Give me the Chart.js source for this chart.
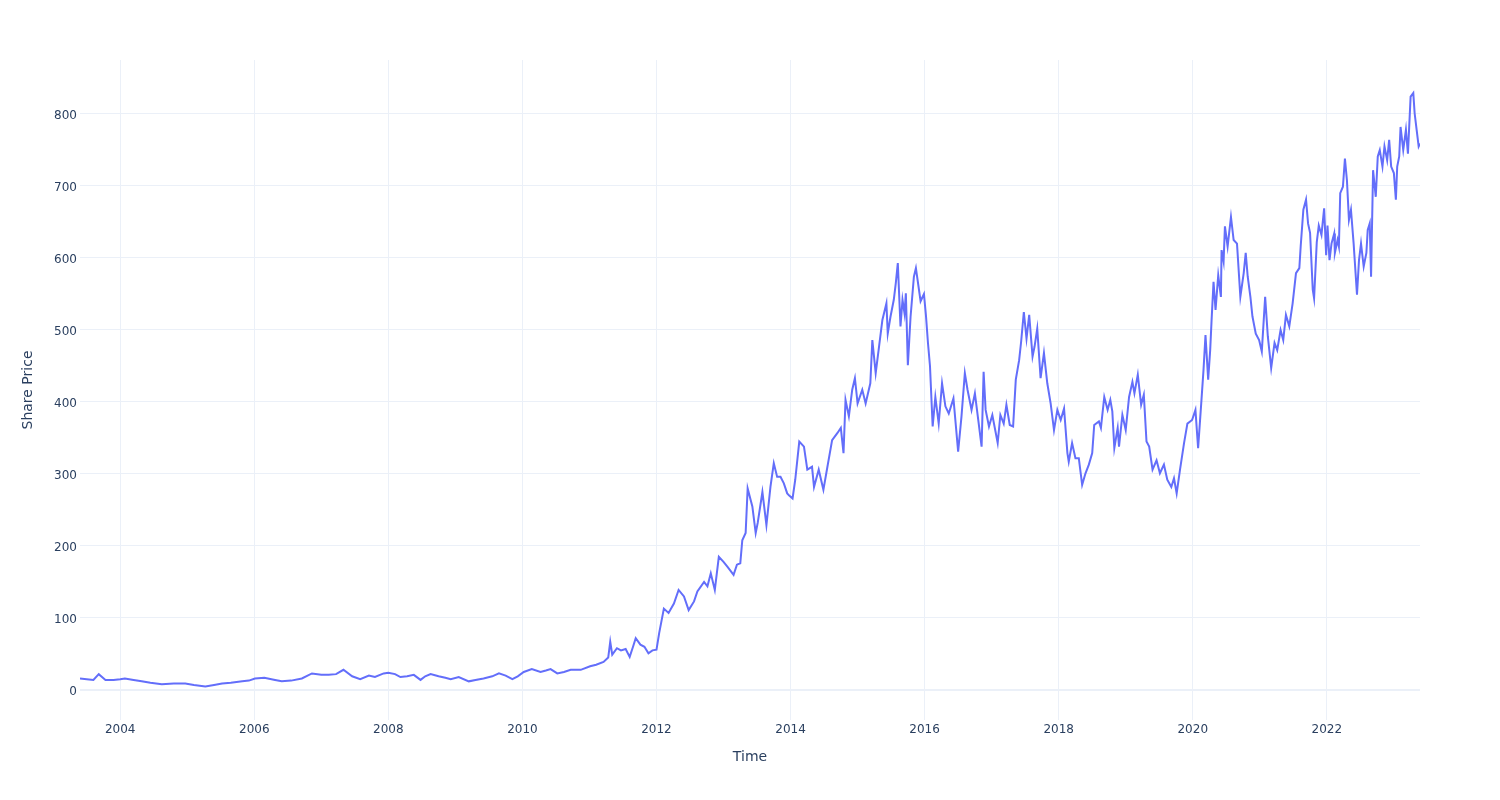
<!DOCTYPE html>
<html>
<head>
<meta charset="utf-8">
<title>Share Price</title>
<script src="https://cdn.jsdelivr.net/npm/chart.js@4"></script>
<style>
  body { margin: 0; background: #fff; }
  canvas { display: block; }
</style>
</head>
<body>
<canvas id="priceChart" width="1500" height="800"></canvas>
<script>
// decimal years, with the share price at each one
const years = [
  2003.40, 2003.50, 2003.60, 2003.68, 2003.78, 2003.90, 2004.00, 2004.07, 2004.20, 2004.32,
  2004.45, 2004.62, 2004.80, 2004.97, 2005.10, 2005.27, 2005.40, 2005.52, 2005.65, 2005.82,
  2005.92, 2006.01, 2006.15, 2006.31, 2006.41, 2006.55, 2006.71, 2006.86, 2007.00, 2007.11,
  2007.22, 2007.33, 2007.46, 2007.58, 2007.71, 2007.80, 2007.93, 2008.00, 2008.10, 2008.18,
  2008.28, 2008.38, 2008.48, 2008.55, 2008.63, 2008.75, 2008.85, 2008.93, 2009.05, 2009.20,
  2009.30, 2009.42, 2009.55, 2009.65, 2009.75, 2009.85, 2009.93, 2010.02, 2010.14, 2010.27,
  2010.35, 2010.42, 2010.52, 2010.62, 2010.72, 2010.87, 2011.01, 2011.10, 2011.21, 2011.28,
  2011.31, 2011.34, 2011.41, 2011.47, 2011.54, 2011.60, 2011.65, 2011.69, 2011.76, 2011.82,
  2011.88, 2011.94, 2012.00, 2012.04, 2012.11, 2012.18, 2012.26, 2012.33, 2012.41, 2012.48,
  2012.56, 2012.61, 2012.71, 2012.76, 2012.81, 2012.87, 2012.93, 2013.00, 2013.06, 2013.15,
  2013.20, 2013.25, 2013.28, 2013.33, 2013.36, 2013.43, 2013.48, 2013.51, 2013.58, 2013.64,
  2013.70, 2013.75, 2013.80, 2013.85, 2013.90, 2013.95, 2013.98, 2014.03, 2014.07, 2014.13,
  2014.20, 2014.25, 2014.32, 2014.35, 2014.42, 2014.49, 2014.55, 2014.62, 2014.70, 2014.75,
  2014.79, 2014.82, 2014.87, 2014.92, 2014.96, 2015.00, 2015.07, 2015.12, 2015.19, 2015.22,
  2015.27, 2015.32, 2015.37, 2015.43, 2015.45, 2015.49, 2015.54, 2015.57, 2015.60, 2015.64,
  2015.67, 2015.70, 2015.72, 2015.75, 2015.79, 2015.84, 2015.87, 2015.94, 2015.99, 2016.02,
  2016.05, 2016.08, 2016.12, 2016.16, 2016.21, 2016.26, 2016.31, 2016.36, 2016.43, 2016.50,
  2016.55, 2016.60, 2016.64, 2016.70, 2016.75, 2016.80, 2016.85, 2016.88, 2016.91, 2016.96,
  2017.01, 2017.09, 2017.13, 2017.18, 2017.22, 2017.27, 2017.32, 2017.36, 2017.41, 2017.44,
  2017.48, 2017.52, 2017.56, 2017.61, 2017.64, 2017.68, 2017.73, 2017.78, 2017.83, 2017.88,
  2017.93, 2017.98, 2018.03, 2018.08, 2018.13, 2018.15, 2018.20, 2018.25, 2018.30, 2018.35,
  2018.40, 2018.45, 2018.50, 2018.53, 2018.60, 2018.63, 2018.68, 2018.73, 2018.77, 2018.80,
  2018.83, 2018.88, 2018.90, 2018.95, 2019.00, 2019.05, 2019.10, 2019.13, 2019.18, 2019.23,
  2019.27, 2019.31, 2019.35, 2019.40, 2019.46, 2019.51, 2019.57, 2019.62, 2019.68, 2019.72,
  2019.76, 2019.81, 2019.87, 2019.92, 2019.99, 2020.04, 2020.08, 2020.13, 2020.16, 2020.19,
  2020.23, 2020.26, 2020.28, 2020.31, 2020.34, 2020.38, 2020.42, 2020.43, 2020.46, 2020.48,
  2020.52, 2020.57, 2020.61, 2020.66, 2020.71, 2020.76, 2020.79, 2020.82, 2020.86, 2020.89,
  2020.94, 2020.99, 2021.03, 2021.08, 2021.12, 2021.17, 2021.22, 2021.26, 2021.31, 2021.35,
  2021.39, 2021.44, 2021.49, 2021.54, 2021.59, 2021.61, 2021.65, 2021.69, 2021.72, 2021.75,
  2021.79, 2021.81, 2021.85, 2021.88, 2021.92, 2021.96, 2021.99, 2022.01, 2022.04, 2022.07,
  2022.11, 2022.12, 2022.16, 2022.18, 2022.20, 2022.24, 2022.27, 2022.30, 2022.33, 2022.36,
  2022.40, 2022.45, 2022.48, 2022.51, 2022.55, 2022.59, 2022.61, 2022.64, 2022.66, 2022.69,
  2022.73, 2022.76, 2022.79, 2022.83, 2022.86, 2022.90, 2022.93, 2022.96, 2023.00, 2023.03,
  2023.05, 2023.08, 2023.10, 2023.14, 2023.18, 2023.21, 2023.25, 2023.29, 2023.31, 2023.34,
  2023.37, 2023.39
];

const prices = [
  16, 15, 14, 22, 14, 14, 15, 16, 14, 12,
  10, 8, 9, 9, 7, 5, 7, 9, 10, 12,
  13, 16, 17, 14, 12, 13, 16, 23, 21, 21,
  22, 28, 19, 15, 20, 18, 23, 24, 22, 18,
  19, 21, 14, 19, 22, 19, 17, 15, 18, 12,
  14, 16, 19, 23, 20, 15, 19, 25, 29, 25,
  27, 29, 23, 25, 28, 28, 33, 35, 39, 45,
  67, 49, 58, 55, 57, 46, 60, 72, 63, 60,
  51, 55, 56, 79, 113, 107, 120, 139, 130, 111,
  123, 137, 150, 144, 162, 139, 185, 178, 171, 160,
  174, 176, 208, 218, 280, 255, 218, 232, 275, 229,
  282, 315, 296, 296, 287, 273, 270, 266, 292, 345,
  338, 306, 310, 282, 306, 278, 310, 347, 357, 364,
  329, 403, 380, 417, 433, 398, 417, 398, 426, 486,
  440, 477, 514, 537, 495, 518, 542, 565, 593, 505,
  542, 523, 551, 451, 518, 574, 586, 540, 550, 520,
  482, 450, 366, 407, 370, 426, 394, 384, 405, 331,
  380, 440, 417, 389, 412, 375, 338, 442, 389, 366,
  382, 343, 382, 370, 396, 368, 366, 431, 458, 484,
  525, 488, 521, 463, 477, 502, 433, 468, 426, 398,
  361, 389, 375, 391, 329, 317, 343, 322, 322, 285,
  301, 313, 329, 368, 373, 364, 407, 389, 403, 387,
  336, 364, 338, 382, 361, 407, 428, 412, 438, 396,
  410, 345, 338, 306, 319, 301, 313, 292, 282, 294,
  273, 306, 343, 370, 375, 389, 336, 403, 444, 493,
  431, 472, 512, 567, 528, 576, 546, 611, 595, 644,
  616, 657, 625, 620, 546, 579, 607, 574, 546, 519,
  495, 486, 470, 546, 491, 447, 482, 472, 500, 486,
  521, 505, 537, 579, 586, 616, 667, 681, 648, 635,
  556, 544, 622, 645, 632, 669, 604, 645, 597, 620,
  634, 607, 625, 616, 690, 699, 738, 708, 653, 667,
  620, 549, 597, 620, 588, 607, 639, 648, 574, 722,
  685, 741, 750, 727, 755, 736, 764, 727, 718, 681,
  727, 741, 782, 750, 778, 745, 824, 829, 801, 778,
  755, 759
];

const xTicks = [2004, 2006, 2008, 2010, 2012, 2014, 2016, 2018, 2020, 2022];
const yTicks = [0, 100, 200, 300, 400, 500, 600, 700, 800];

const textColor = '#2a3f5f';
const gridColor = '#ebf0f8';
const fontFamily = '"DejaVu Sans", verdana, arial, sans-serif';

const points = years.map((yr, i) => ({ x: yr, y: prices[i] }));

const ctx = document.getElementById('priceChart').getContext('2d');
new Chart(ctx, {
  type: 'line',
  data: {
    datasets: [{
      data: points,
      borderColor: '#636efa',
      borderWidth: 2,
      pointRadius: 0,
      tension: 0,
      fill: false,
    }]
  },
  options: {
    responsive: false,
    animation: false,
    layout: { padding: { top: 60, right: 80, left: 0, bottom: 0 } },
    plugins: {
      legend: { display: false },
      tooltip: { enabled: false },
    },
    scales: {
      x: {
        type: 'linear',
        min: 2003.40,
        max: 2023.39,
        afterBuildTicks: (scale) => { scale.ticks = xTicks.map(v => ({ value: v })); },
        afterFit: (scale) => { scale.height = 80; },
        border: { display: false },
        grid: { color: gridColor, lineWidth: 1, drawTicks: false },
        ticks: {
          padding: 3,
          color: textColor,
          font: { family: fontFamily, size: 12 },
          callback: (v) => String(v),
        },
        title: {
          display: true,
          text: 'Time',
          color: textColor,
          font: { family: fontFamily, size: 14 },
          padding: { top: 0, bottom: 34 },
        },
      },
      y: {
        type: 'linear',
        min: -41.7,
        max: 875,
        afterBuildTicks: (scale) => { scale.ticks = yTicks.map(v => ({ value: v })); },
        afterFit: (scale) => { scale.width = 80; },
        border: { display: false },
        grid: {
          color: gridColor,
          lineWidth: (c) => (c.tick && c.tick.value === 0 ? 2 : 1),
          drawTicks: false,
        },
        ticks: {
          padding: 3,
          labelOffset: 2,
          color: textColor,
          font: { family: fontFamily, size: 12 },
          callback: (v) => String(v),
        },
        title: {
          display: true,
          text: 'Share Price',
          color: textColor,
          font: { family: fontFamily, size: 14 },
          padding: { top: 20, bottom: 0 },
        },
      },
    },
  },
});
</script>
</body>
</html>
